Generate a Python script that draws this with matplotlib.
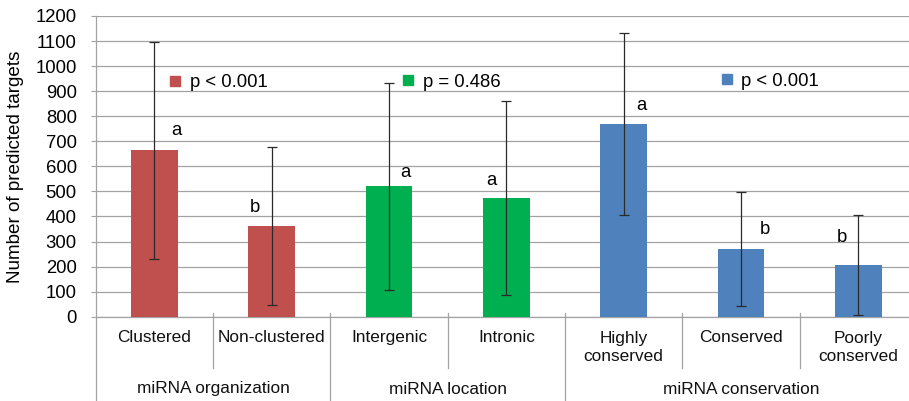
import matplotlib
matplotlib.use("Agg")
import matplotlib.pyplot as plt
import numpy as np

plt.rcParams['font.family'] = ['Liberation Sans', 'DejaVu Sans']

# ---- data ----
categories = ["Clustered", "Non-clustered", "Intergenic", "Intronic",
              "Highly\nconserved", "Conserved", "Poorly\nconserved"]
groups = ["miRNA organization", "miRNA location", "miRNA conservation"]
group_sizes = [2, 2, 3]
values = [665, 362, 520, 474, 769, 270, 207]
errors = [433, 316, 413, 387, 365, 226, 200]
sig_letters = ["a", "b", "a", "a", "a", "b", "b"]
p_labels = ["p < 0.001", "p = 0.486", "p < 0.001"]
yticks = list(range(0, 1201, 100))

# ---- style / layout ----
group_colors = ["#C0504D", "#00B050", "#4F81BD"]
letter_dx = [0.19, -0.14, 0.14, -0.13, 0.15, 0.20, -0.14]
letter_y = [745, 434, 577, 545, 841, 346, 318]
p_square_x = [0.174, 2.166, 4.88]
p_text_x = [0.30, 2.29, 5.0]
p_y = [933, 936, 940]
grid_col = "#A3A3A3"

W, H = 909, 401
fig = plt.figure(figsize=(W / 100, H / 100), dpi=100)
ax_l, ax_r, ax_t, ax_b = 95.7, 917.0, 16.0, 316.7
ax = fig.add_axes([ax_l / W, (H - ax_b) / H, (ax_r - ax_l) / W, (ax_b - ax_t) / H])
axh = ax_b - ax_t

def py(pix):
    """pixel y (from top) -> axes fraction"""
    return (ax_b - pix) / axh

bar_colors = []
for c, n in zip(group_colors, group_sizes):
    bar_colors += [c] * n

x = np.arange(len(categories))
ax.bar(x, values, width=0.4, color=bar_colors, zorder=3)
ax.errorbar(x, values, yerr=errors, fmt='none', ecolor='#2a2a2a',
            elinewidth=0.9, capsize=3.6, capthick=0.9, zorder=4)

ax.set_xlim(-0.5, len(categories) - 0.5)
ax.set_ylim(0, 1200)
ax.set_yticks(yticks)
ax.set_yticklabels([str(t) for t in yticks], fontsize=13.3)
ax.tick_params(axis='y', length=5 * 0.72, width=0.8, color=grid_col, pad=10)
ax.set_xticks([])
ax.yaxis.grid(True, color=grid_col, linewidth=0.9, zorder=0)
ax.set_axisbelow(True)
for s in ['top', 'right', 'left']:
    ax.spines[s].set_visible(False)
ax.spines['bottom'].set_color(grid_col)
ax.spines['bottom'].set_linewidth(0.9)

ax.set_ylabel("Number of predicted targets", fontsize=13.6, labelpad=8)

trans = ax.get_xaxis_transform()
# y-axis line extending below into the category area
ax.plot([-0.5, -0.5], [1, py(H + 5)], transform=trans, color=grid_col,
        lw=0.9, clip_on=False, zorder=5)

# separators
bounds = np.cumsum(group_sizes)[:-1] - 0.5
for b in np.arange(0.5, len(categories) - 0.5, 1.0):
    if any(abs(b - gb) < 1e-6 for gb in bounds):
        ax.plot([b, b], [py(313), py(H + 5)], transform=trans, color=grid_col,
                lw=0.9, clip_on=False)
    else:
        ax.plot([b, b], [py(313), py(368)], transform=trans, color=grid_col,
                lw=0.9, clip_on=False)

# category labels
for i, lab in enumerate(categories):
    yc = 337.5 + (10 if "\n" in lab else 0)
    ax.text(i, py(yc), lab, transform=trans, ha='center', va='center',
            fontsize=12.4, linespacing=1.2, color='#111111')

# group labels
start = 0
for g, n in zip(groups, group_sizes):
    ax.text(start + (n - 1) / 2, py(389), g, transform=trans, ha='center',
            va='center', fontsize=12.4, color='#111111')
    start += n

# significance letters
for i, (l, dx, yy) in enumerate(zip(sig_letters, letter_dx, letter_y)):
    ax.text(i + dx, yy, l, ha='center', va='center', fontsize=13.3, zorder=6)

# p-value "legend" entries
for c, sx, tx, yy, lab in zip(group_colors, p_square_x, p_text_x, p_y, p_labels):
    ax.plot([sx], [yy + 8], marker='s', markersize=6.8, color=c, linestyle='none', zorder=6)
    ax.text(tx, yy, lab, ha='left', va='center', fontsize=13.3, zorder=6)

fig.savefig("out.png", dpi=100)
